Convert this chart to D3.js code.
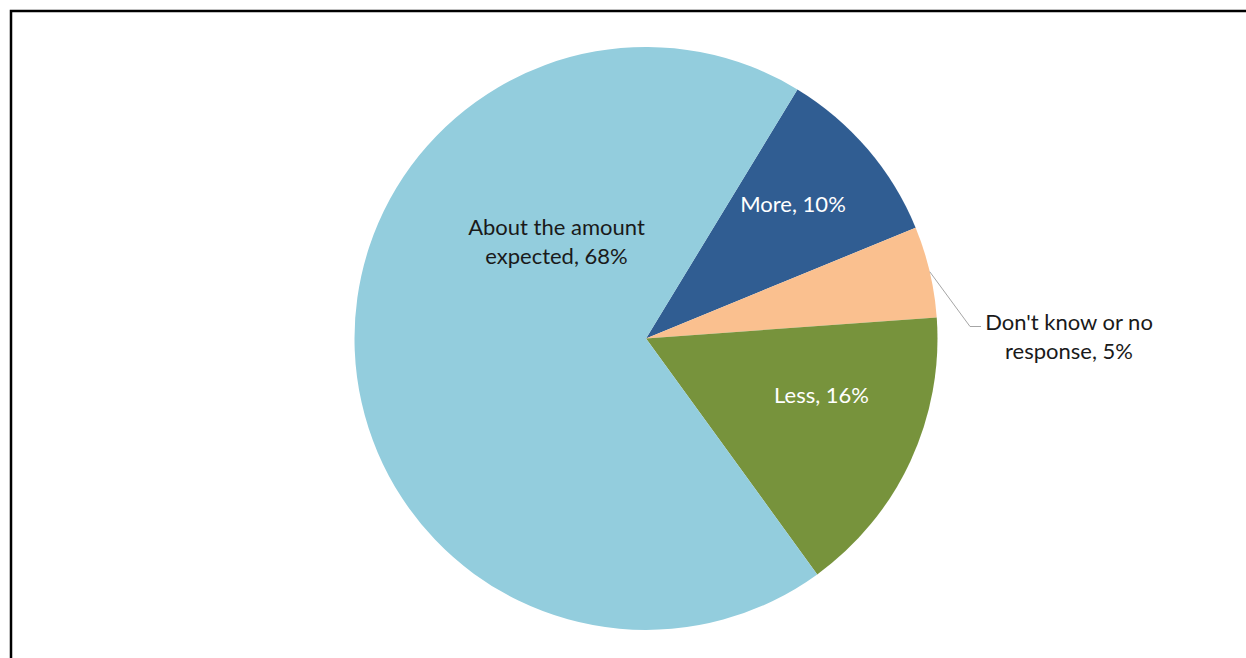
<!DOCTYPE html>
<html>
<head>
<meta charset="utf-8">
<script src="https://cdn.jsdelivr.net/npm/d3@7"></script>
<style>
  html, body { margin: 0; padding: 0; background: #fff; }
  svg { display: block; }
</style>
</head>
<body>
<svg id="chart" width="1246" height="658"></svg>
<script>
// Survey responses, in clockwise drawing order
const categories = ["More", "Don't know or no response", "Less", "About the amount expected"];
const values = [10, 5, 16, 68];
const labelLines = [
  ["More, 10%"],
  ["Don't know or no", "response, 5%"],
  ["Less, 16%"],
  ["About the amount", "expected, 68%"]
];

const colors = ["#305d92", "#fac08f", "#77933c", "#93cddd"];
const labelColors = ["#ffffff", "#1a1a1a", "#ffffff", "#1a1a1a"];

const width = 1246, height = 658;
const cx = 646, cy = 338.5, radius = 291.5;
const startDeg = 31.3;

// label centres, as offsets from the pie centre
const labelOffset = [[147, -134], [423, -2], [175.5, 57], [-89.5, -97]];

const svg = d3.select("#chart");

// outer frame (only top and left edges fall inside the view)
svg.append("rect")
  .attr("x", 11).attr("y", 11)
  .attr("width", width + 40).attr("height", height + 40)
  .attr("fill", "#fff")
  .attr("stroke", "#000")
  .attr("stroke-width", 2.5);

const pie = d3.pie()
  .sort(null)
  .value(d => d)
  .startAngle(startDeg * Math.PI / 180)
  .endAngle(startDeg * Math.PI / 180 + 2 * Math.PI);

const arcs = pie(values);
const arc = d3.arc().innerRadius(0).outerRadius(radius);

const g = svg.append("g").attr("transform", `translate(${cx},${cy})`);

g.selectAll("path.slice")
  .data(arcs)
  .join("path")
  .attr("class", "slice")
  .attr("d", arc)
  .attr("fill", (d, i) => colors[i]);

// leader line for the small slice
const small = arcs[1];
const mid = (small.startAngle + small.endAngle) / 2;
const p0 = [Math.sin(mid) * radius, -Math.cos(mid) * radius];
g.append("path")
  .attr("d", d3.line()([p0, [324, -12], [335, -12]]))
  .attr("fill", "none")
  .attr("stroke", "#a6a6a6")
  .attr("stroke-width", 1);

const fontSize = 22;
const lineH = 29;
const labels = g.selectAll("text.label")
  .data(arcs)
  .join("text")
  .attr("class", "label")
  .attr("text-anchor", "middle")
  .attr("font-family", "Lato, 'Open Sans', sans-serif")
  .attr("font-size", fontSize)
  .attr("fill", (d, i) => labelColors[i])
  .attr("transform", (d, i) => `translate(${labelOffset[i][0]},${labelOffset[i][1]})`);

labels.each(function(d, i) {
  const lines = labelLines[i];
  const t = d3.select(this);
  const y0 = -((lines.length - 1) * lineH) / 2;
  lines.forEach((s, k) => {
    t.append("tspan")
      .attr("x", 0)
      .attr("y", y0 + k * lineH)
      .attr("dy", "0.35em")
      .text(s);
  });
});
</script>
</body>
</html>
